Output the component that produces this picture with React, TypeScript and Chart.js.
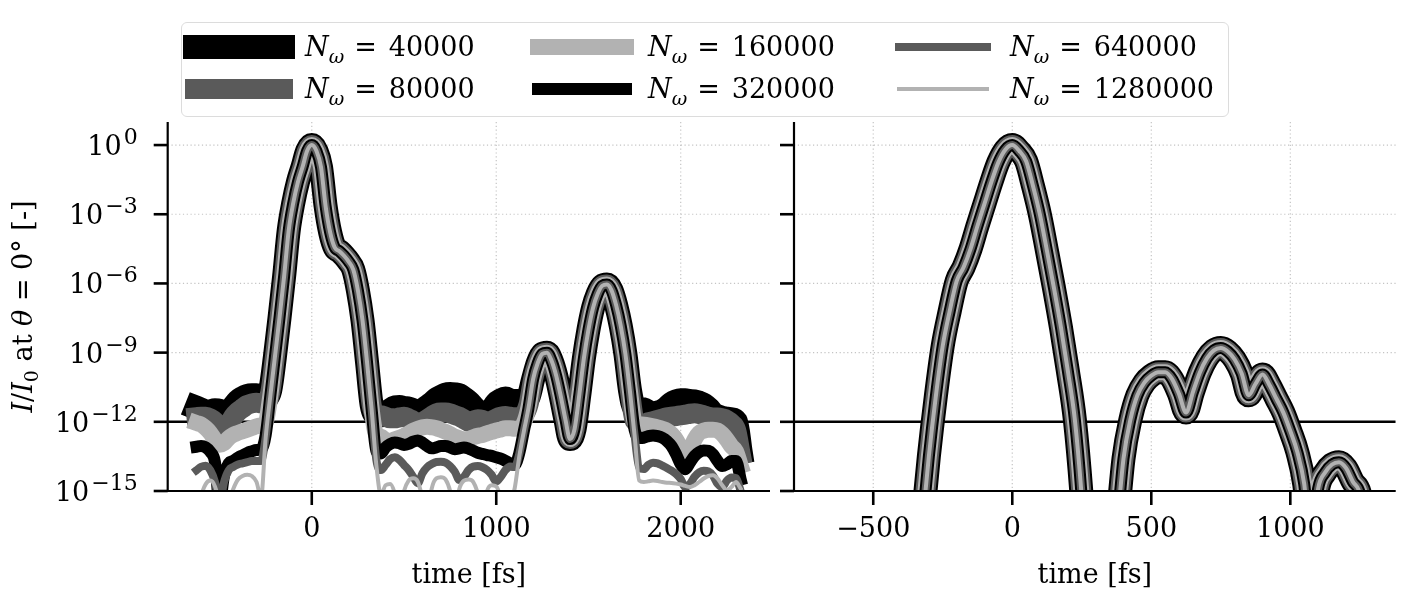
import React, { useEffect, useRef } from 'react';
import { Chart, registerables } from 'chart.js';

Chart.register(...registerables);

/* ---------------- data ---------------- */
const seriesLabels = ['40000', '80000', '160000', '320000', '640000', '1280000'];

// left panel: time grid [fs]
const leftTime = [
  -625, -600, -575, -550, -525, -500, -475, -450, -425, -400,
  -375, -350, -325, -300, -275, -250, -225, -200, -175, -150,
  -125, -100, -75, -50, -25, 0, 25, 50, 75, 100,
  125, 150, 175, 200, 225, 250, 275, 300, 325, 350,
  375, 400, 425, 450, 475, 500, 525, 550, 575, 600,
  625, 650, 675, 700, 725, 750, 775, 800, 825, 850,
  875, 900, 925, 950, 975, 1000, 1025, 1050, 1075, 1100,
  1125, 1150, 1175, 1200, 1225, 1250, 1275, 1300, 1325, 1350,
  1375, 1400, 1425, 1450, 1475, 1500, 1525, 1550, 1575, 1600,
  1625, 1650, 1675, 1700, 1725, 1750, 1775, 1800, 1825, 1850,
  1875, 1900, 1925, 1950, 1975, 2000, 2025, 2050, 2075, 2100,
  2125, 2150, 2175, 2200, 2225, 2250, 2275, 2300, 2325,
];

// left panel: common pulse, log10(I/I0)
const leftSignalLog = [
  -20, -20, -20, -20, -20, -20, -20, -20, -20, -20,
  -20, -20, -20, -20, -16.5, -12.7, -10.9, -9.2, -7.5, -5.7,
  -3.7, -2.5, -1.6, -0.95, -0.25, 0, -0.25, -0.95, -2.65, -3.8,
  -4.45, -4.6, -4.8, -5.05, -5.4, -6.3, -7.6, -9.45, -11.5, -13.9,
  -16.5, -20, -20, -20, -20, -20, -20, -20, -20, -20,
  -20, -20, -20, -20, -20, -20, -20, -20, -20, -20,
  -20, -20, -20, -20, -20, -20, -20, -20, -17.5, -15.0,
  -13.5, -12.4, -11.4, -10.15, -9.45, -9.05, -9.0, -9.35, -10.0, -10.9,
  -11.9, -12.75, -12.3, -10.85, -9.25, -8.0, -7.05, -6.45, -6.1, -6.05,
  -6.3, -6.95, -7.85, -9.05, -10.7, -12.6, -15.5, -20, -20, -20,
  -20, -20, -20, -20, -20, -20, -20, -20, -20, -20,
  -20, -20, -20, -20, -20, -20, -20, -20, -20,
];

// left panel: numerical noise floor of each run, log10
const leftNoiseLog40000 = [
  -11.39, -11.47, -11.55, -11.55, -11.5, -11.52, -11.72, -11.65, -11.36, -11.11,
  -10.97, -10.88, -10.85, -10.85, -10.92, -10.95, -10.95, -10.95, -10.95, -10.95,
  -10.95, -10.95, -10.95, -10.95, -10.95, -10.95, -11.7, -11.7, -11.7, -11.7,
  -11.7, -11.7, -11.7, -11.7, -11.7, -11.7, -11.7, -11.7, -11.7, -11.7,
  -11.72, -11.65, -11.5, -11.37, -11.36, -11.4, -11.43, -11.5, -11.55, -11.5,
  -11.36, -11.21, -11.03, -10.92, -10.82, -10.79, -10.81, -10.85, -10.99, -11.14,
  -11.36, -11.55, -11.69, -11.65, -11.5, -11.21, -11.07, -10.99, -11.07, -11.1,
  -11.1, -11.1, -11.1, -16, -16, -16, -16, -16, -16, -16,
  -16, -16, -16, -16, -16, -16, -16, -16, -16, -16,
  -16, -16, -16, -16, -11.45, -11.45, -11.45, -11.46, -11.57, -11.65,
  -11.6, -11.53, -11.4, -11.21, -11.11, -11.07, -11.07, -11.1, -11.11, -11.17,
  -11.26, -11.43, -11.65, -11.76, -11.83, -11.86, -11.89, -12.0, -13.3,
];
const leftNoiseLog80000 = [
  -11.8, -11.78, -11.78, -11.85, -11.99, -12.21, -12.5, -12.14, -11.78, -11.56,
  -11.41, -11.27, -11.2, -11.17, -11.2, -11.2, -11.2, -11.2, -11.2, -11.2,
  -11.2, -11.2, -11.2, -11.2, -11.2, -11.2, -11.7, -11.7, -11.7, -11.7,
  -11.7, -11.7, -11.7, -11.7, -11.7, -11.7, -11.7, -11.7, -11.7, -11.7,
  -11.71, -11.78, -11.85, -11.85, -11.81, -11.78, -11.85, -11.95, -12.04, -12.0,
  -11.89, -11.75, -11.63, -11.6, -11.6, -11.63, -11.71, -11.78, -11.89, -12.0,
  -11.95, -11.89, -11.92, -12.0, -11.95, -11.85, -11.78, -11.75, -11.78, -11.8,
  -11.8, -11.8, -11.8, -16, -16, -16, -16, -16, -16, -16,
  -16, -16, -16, -16, -16, -16, -16, -16, -16, -16,
  -16, -16, -16, -16, -12.05, -12.05, -12.05, -12.07, -12.02, -11.97,
  -11.92, -11.86, -11.81, -11.78, -11.75, -11.72, -11.69, -11.65, -11.63, -11.66,
  -11.72, -11.78, -11.81, -11.81, -11.85, -11.92, -12.07, -12.35, -13.4,
];
const leftNoiseLog160000 = [
  -12.05, -12.12, -12.27, -12.48, -12.77, -12.99, -12.92, -12.7, -12.56, -12.48,
  -12.41, -12.34, -12.27, -12.2, -12.15, -12.15, -12.15, -12.15, -12.15, -12.15,
  -12.15, -12.15, -12.15, -12.15, -12.15, -12.15, -12.6, -12.6, -12.6, -12.6,
  -12.6, -12.6, -12.6, -12.6, -12.6, -12.6, -12.6, -12.6, -12.6, -12.6,
  -12.64, -12.79, -12.82, -12.76, -12.69, -12.61, -12.5, -12.38, -12.3, -12.24,
  -12.21, -12.24, -12.28, -12.35, -12.43, -12.53, -12.64, -12.71, -12.76, -12.74,
  -12.67, -12.61, -12.57, -12.5, -12.44, -12.38, -12.33, -12.28, -12.28, -12.3,
  -12.3, -12.3, -12.3, -16, -16, -16, -16, -16, -16, -16,
  -16, -16, -16, -16, -16, -16, -16, -16, -16, -16,
  -16, -16, -16, -16, -12.1, -12.1, -12.1, -12.12, -12.15, -12.19,
  -12.24, -12.3, -12.38, -12.53, -12.77, -13.13, -13.42, -13.2, -12.77, -12.48,
  -12.38, -12.34, -12.34, -12.38, -12.53, -12.77, -13.06, -13.28, -13.9,
];
const leftNoiseLog320000 = [
  -13.08, -13.05, -13.11, -13.3, -13.73, -15.5, -14.3, -13.8, -13.69, -13.55,
  -13.45, -13.35, -13.28, -13.22, -13.2, -13.2, -13.2, -13.2, -13.2, -13.2,
  -13.2, -13.2, -13.2, -13.2, -13.2, -13.2, -13.4, -13.4, -13.4, -13.4,
  -13.4, -13.4, -13.4, -13.4, -13.4, -13.4, -13.4, -13.4, -13.4, -13.4,
  -13.37, -13.11, -12.96, -12.9, -12.93, -13.0, -12.96, -12.86, -12.81, -12.9,
  -13.05, -13.15, -13.11, -13.05, -13.05, -13.11, -13.19, -13.15, -13.11, -13.16,
  -13.25, -13.34, -13.39, -13.44, -13.48, -13.54, -13.6, -13.69, -13.8, -13.9,
  -13.9, -13.9, -13.9, -16, -16, -16, -16, -16, -16, -16,
  -16, -16, -16, -16, -16, -16, -16, -16, -16, -16,
  -16, -16, -16, -16, -12.7, -12.7, -12.7, -12.69, -12.62, -12.59,
  -12.62, -12.69, -12.83, -13.05, -13.41, -13.84, -14.06, -13.77, -13.48, -13.31,
  -13.24, -13.26, -13.41, -13.7, -13.92, -13.84, -13.7, -13.7, -14.5,
];
const leftNoiseLog640000 = [
  -14.1, -13.95, -13.9, -14.1, -14.6, -15.5, -14.6, -14.1, -13.95, -13.85,
  -13.8, -13.75, -13.7, -13.7, -13.7, -13.7, -13.7, -13.7, -13.7, -13.7,
  -13.7, -13.7, -13.7, -13.7, -13.7, -13.7, -14.0, -14.0, -14.0, -14.0,
  -14.0, -14.0, -14.0, -14.0, -14.0, -14.0, -14.0, -14.0, -14.0, -14.0,
  -14.09, -13.87, -13.62, -13.54, -13.65, -13.87, -14.09, -14.38, -14.66, -14.23,
  -13.97, -13.83, -13.74, -13.73, -13.77, -13.92, -14.16, -14.52, -14.38, -14.09,
  -13.94, -13.92, -13.97, -14.09, -14.3, -14.59, -14.38, -14.09, -13.94, -14.0,
  -14.0, -14.0, -14.0, -16, -16, -16, -16, -16, -16, -16,
  -16, -16, -16, -16, -16, -16, -16, -16, -16, -16,
  -16, -16, -16, -16, -14.0, -14.0, -14.0, -14.05, -13.86, -13.77,
  -13.8, -13.9, -14.0, -14.12, -14.26, -14.48, -14.84, -14.69, -14.38, -14.19,
  -14.12, -14.15, -14.33, -14.69, -14.84, -14.55, -14.41, -14.44, -15.0,
];
const leftNoiseLog1280000 = [
  -16, -15.2, -14.7, -14.55, -14.8, -15.6, -17, -15.5, -14.9, -14.5,
  -14.35, -14.3, -14.35, -14.6, -15.3, -15.3, -15.3, -15.3, -15.3, -15.3,
  -15.3, -15.3, -15.3, -15.3, -15.3, -15.3, -15.2, -15.2, -15.2, -15.2,
  -15.2, -15.2, -15.2, -15.2, -15.2, -15.2, -15.2, -15.2, -15.2, -15.2,
  -15.2, -14.75, -14.7, -15.1, -16, -15.0, -14.55, -14.45, -14.6, -15.3,
  -16.2, -14.9, -14.45, -14.4, -14.5, -15.0, -16, -14.9, -14.55, -14.5,
  -14.6, -15.1, -16, -15.0, -14.75, -14.8, -15.3, -16, -15.5, -15.5,
  -15.5, -15.5, -15.5, -16, -16, -16, -16, -16, -16, -16,
  -16, -16, -16, -16, -16, -16, -16, -16, -16, -16,
  -16, -16, -16, -16, -14.6, -14.6, -14.6, -14.61, -14.58, -14.55,
  -14.57, -14.61, -14.64, -14.65, -14.68, -14.72, -14.78, -14.83, -14.75, -14.61,
  -14.46, -14.35, -14.32, -14.46, -14.75, -14.97, -14.83, -14.61, -14.9,
];

// right panel: time grid [fs] and the pulse (all six runs coincide), log10
const rightTime = [
  -350, -325, -300, -275, -250, -225, -200, -175, -150, -125,
  -100, -75, -50, -25, 0, 25, 50, 75, 100, 125,
  150, 175, 200, 225, 250, 275, 300, 325, 350, 375,
  400, 425, 450, 475, 500, 525, 550, 575, 600, 625,
  650, 675, 700, 725, 750, 775, 800, 825, 850, 875,
  900, 925, 950, 975, 1000, 1025, 1050, 1075, 1100, 1125,
  1150, 1175, 1200, 1225, 1250, 1275, 1300,
];
const rightSignalLog = [
  -20, -16.6, -13.5, -10.9, -8.7, -7.2, -5.9, -5.3, -4.5, -3.5,
  -2.55, -1.6, -0.75, -0.2, 0, -0.25, -0.7, -1.8, -3.05, -4.6,
  -6.2, -7.9, -9.8, -11.9, -15.3, -20, -20, -20, -20, -16.8,
  -13.6, -11.9, -10.85, -10.3, -10.0, -9.85, -9.85, -10.15, -10.8, -11.6,
  -10.7, -9.85, -9.25, -8.9, -8.8, -8.95, -9.3, -9.9, -10.85, -10.35,
  -9.95, -10.4, -11.0, -11.6, -12.4, -13.3, -14.7, -17.5, -14.9, -14.2,
  -13.85, -13.75, -14.0, -14.6, -15.1, -17, -20,
];

const leftXTicks = [0, 1000, 2000];
const leftXTickLabels = ['0', '1000', '2000'];
const rightXTicks = [-500, 0, 500, 1000];
const rightXTickLabels = ['\u2212500', '0', '500', '1000'];
const yTickExponents = [0, -3, -6, -9, -12, -15];
const thresholdLevel = 1e-12;
const leftXRange = [-781, 2484];
const rightXRange = [-785, 1379];
const yRange = [1e-15, 10];

/* ---------------- styles ---------------- */
const seriesColors = ['#000000', '#5a5a5a', '#b2b2b2', '#000000', '#5a5a5a', '#b2b2b2'];
const seriesWidths = [24, 20, 16, 12, 8, 4];
const FONT = '"DejaVu Serif", "Liberation Serif", serif';
const BASE_PX = 27;
const SUP_PX = 22;

function axesPlugin(xTicks: number[], xLabels: string[], showY: boolean) {
  return {
    id: 'mplAxes',
    beforeDatasetsDraw(chart: any) {
      const ctx: CanvasRenderingContext2D = chart.ctx;
      const a = chart.chartArea;
      const xs = chart.scales.x;
      const ys = chart.scales.y;
      ctx.save();
      ctx.strokeStyle = '#c4c4c4';
      ctx.lineWidth = 1.2;
      ctx.setLineDash([1.2, 2.6]);
      for (const v of xTicks) {
        const px = xs.getPixelForValue(v);
        ctx.beginPath();
        ctx.moveTo(px, a.top);
        ctx.lineTo(px, a.bottom);
        ctx.stroke();
      }
      for (const e of yTickExponents) {
        const py = ys.getPixelForValue(Math.pow(10, e));
        ctx.beginPath();
        ctx.moveTo(a.left, py);
        ctx.lineTo(a.right, py);
        ctx.stroke();
      }
      ctx.restore();
    },
    afterDatasetsDraw(chart: any) {
      const ctx: CanvasRenderingContext2D = chart.ctx;
      const a = chart.chartArea;
      const xs = chart.scales.x;
      const ys = chart.scales.y;
      ctx.save();
      ctx.setLineDash([]);
      ctx.strokeStyle = '#000';
      ctx.lineCap = 'butt';
      ctx.lineWidth = 2.2;
      ctx.beginPath();
      ctx.moveTo(a.left, a.top);
      ctx.lineTo(a.left, a.bottom + 1.1);
      ctx.stroke();
      ctx.beginPath();
      ctx.moveTo(a.left - 1.1, a.bottom);
      ctx.lineTo(a.right, a.bottom);
      ctx.stroke();
      ctx.lineWidth = 2.6;
      for (const v of xTicks) {
        const px = xs.getPixelForValue(v);
        ctx.beginPath();
        ctx.moveTo(px, a.bottom);
        ctx.lineTo(px, a.bottom + 14);
        ctx.stroke();
      }
      for (const e of yTickExponents) {
        const py = ys.getPixelForValue(Math.pow(10, e));
        ctx.beginPath();
        ctx.moveTo(a.left - 14, py);
        ctx.lineTo(a.left, py);
        ctx.stroke();
      }
      ctx.fillStyle = '#000';
      ctx.font = `${BASE_PX}px ${FONT}`;
      ctx.textAlign = 'center';
      ctx.textBaseline = 'alphabetic';
      xTicks.forEach((v, i) => ctx.fillText(xLabels[i], xs.getPixelForValue(v), a.bottom + 46));
      ctx.fillText('time [fs]', (a.left + a.right) / 2, a.bottom + 92);

      if (showY) {
        ctx.textAlign = 'left';
        for (const e of yTickExponents) {
          const py = ys.getPixelForValue(Math.pow(10, e));
          const sup = e === 0 ? '0' : '\u2212' + Math.abs(e);
          ctx.font = `${BASE_PX}px ${FONT}`;
          const wb = ctx.measureText('10').width;
          ctx.font = `${SUP_PX}px ${FONT}`;
          const ws = ctx.measureText(sup).width;
          const x0 = a.left - 30 - ws - wb - 2;
          ctx.font = `${BASE_PX}px ${FONT}`;
          ctx.fillText('10', x0, py + 10);
          ctx.font = `${SUP_PX}px ${FONT}`;
          ctx.fillText(sup, x0 + wb + 2, py - 1);
        }
        // y title
        const parts = [
          { t: 'I', f: `italic ${BASE_PX}px ${FONT}`, dy: 0 },
          { t: '/', f: `${BASE_PX}px ${FONT}`, dy: 0 },
          { t: 'I', f: `italic ${BASE_PX}px ${FONT}`, dy: 0 },
          { t: '0', f: `19px ${FONT}`, dy: 6 },
          { t: ' at ', f: `${BASE_PX}px ${FONT}`, dy: 0 },
          { t: '\u03b8', f: `italic ${BASE_PX}px ${FONT}`, dy: 0 },
          { t: ' = 0\u00b0 [-]', f: `${BASE_PX}px ${FONT}`, dy: 0 },
        ];
        let total = 0;
        const widths = parts.map((p) => {
          ctx.font = p.f;
          const w = ctx.measureText(p.t).width;
          total += w;
          return w;
        });
        ctx.save();
        ctx.translate(22, (a.top + a.bottom) / 2);
        ctx.rotate(-Math.PI / 2);
        let u = -total / 2;
        parts.forEach((p, i) => {
          ctx.font = p.f;
          ctx.fillText(p.t, u, 10 + p.dy);
          u += widths[i];
        });
        ctx.restore();
      }
      ctx.restore();
    },
  };
}

function lineDataset(label: string, k: number, points: { x: number; y: number }[]) {
  return {
    label,
    data: points,
    borderColor: seriesColors[k],
    backgroundColor: seriesColors[k],
    borderWidth: seriesWidths[k],
    pointRadius: 0,
    fill: false,
    cubicInterpolationMode: 'monotone',
    borderJoinStyle: 'round',
    borderCapStyle: 'square',
    clip: 0,
    order: 5 - k,
  };
}

function thresholdDataset(xr: number[]) {
  return {
    label: 'threshold',
    data: [
      { x: xr[0], y: thresholdLevel },
      { x: xr[1], y: thresholdLevel },
    ],
    borderColor: '#000',
    borderWidth: 2.5,
    pointRadius: 0,
    fill: false,
    borderCapStyle: 'butt',
    clip: 0,
    order: 10,
  };
}

function buildConfig(datasets: any[], xr: number[], xTicks: number[], xLabels: string[], padding: any, showY: boolean): any {
  return {
    type: 'line',
    data: { datasets },
    options: {
      animation: false,
      responsive: false,
      events: [],
      layout: { padding, autoPadding: false },
      plugins: { legend: { display: false }, tooltip: { enabled: false } },
      scales: {
        x: { type: 'linear', min: xr[0], max: xr[1], display: false },
        y: { type: 'logarithmic', min: yRange[0], max: yRange[1], display: false },
      },
    },
    plugins: [axesPlugin(xTicks, xLabels, showY)],
  };
}

const leftNoise = [
  leftNoiseLog40000,
  leftNoiseLog80000,
  leftNoiseLog160000,
  leftNoiseLog320000,
  leftNoiseLog640000,
  leftNoiseLog1280000,
];

const legendLineStart = [195, 538, 899];
const legendTextX = [305, 648, 1010];
const legendRowY = [47, 89];
const legendLineLen = 88;

function Legend() {
  return (
    <div>
      <div
        style={{
          position: 'absolute',
          left: 181,
          top: 22,
          width: 1048,
          height: 95,
          boxSizing: 'border-box',
          border: '1.5px solid #dcdcdc',
          borderRadius: 6,
          background: '#fff',
        }}
      />
      {seriesLabels.map((lab, k) => {
        const col = Math.floor(k / 2);
        const row = k % 2;
        const w = seriesWidths[k];
        return (
          <React.Fragment key={lab}>
            <div
              style={{
                position: 'absolute',
                left: legendLineStart[col] - w / 2,
                top: legendRowY[row] - w / 2,
                width: legendLineLen + w,
                height: w,
                background: seriesColors[k],
              }}
            />
            <div
              style={{
                position: 'absolute',
                left: legendTextX[col],
                top: legendRowY[row] - 20,
                height: 40,
                lineHeight: '40px',
                fontFamily: FONT,
                fontSize: BASE_PX,
                whiteSpace: 'nowrap',
                color: '#000',
              }}
            >
              <span style={{ fontStyle: 'italic' }}>N</span>
              <span style={{ fontStyle: 'italic', fontSize: 19, position: 'relative', top: 7 }}>{'\u03c9'}</span>
              <span style={{ margin: '0 12px 0 10px' }}>=</span>
              {lab}
            </div>
          </React.Fragment>
        );
      })}
    </div>
  );
}

export default function App() {
  const leftRef = useRef<HTMLCanvasElement>(null);
  const rightRef = useRef<HTMLCanvasElement>(null);

  useEffect(() => {
    const leftDatasets: any[] = seriesLabels.map((lab, k) =>
      lineDataset(
        'N\u03c9 = ' + lab,
        k,
        leftTime.map((t, i) => ({
          x: t,
          y: Math.pow(10, leftSignalLog[i]) + Math.pow(10, leftNoise[k][i]),
        }))
      )
    );
    leftDatasets.push(thresholdDataset(leftXRange));

    const rightDatasets: any[] = seriesLabels.map((lab, k) =>
      lineDataset(
        'N\u03c9 = ' + lab,
        k,
        rightTime.map((t, i) => ({ x: t, y: Math.pow(10, rightSignalLog[i]) }))
      )
    );
    rightDatasets.push(thresholdDataset(rightXRange));

    const c1 = new Chart(
      leftRef.current as HTMLCanvasElement,
      buildConfig(leftDatasets, leftXRange, leftXTicks, leftXTickLabels,
        { left: 167.7, right: 10, top: 122, bottom: 109 }, true)
    );
    const c2 = new Chart(
      rightRef.current as HTMLCanvasElement,
      buildConfig(rightDatasets, rightXRange, rightXTicks, rightXTickLabels,
        { left: 14, right: 8.3, top: 122, bottom: 109 }, false)
    );
    return () => {
      c1.destroy();
      c2.destroy();
    };
  }, []);

  return (
    <div style={{ position: 'absolute', left: 0, top: 0, width: 1404, height: 600, background: '#fff', overflow: 'hidden' }}>
      <canvas ref={leftRef} width={780} height={600} style={{ position: 'absolute', left: 0, top: 0, width: 780, height: 600 }} />
      <canvas ref={rightRef} width={624} height={600} style={{ position: 'absolute', left: 780, top: 0, width: 624, height: 600 }} />
      <Legend />
    </div>
  );
}
